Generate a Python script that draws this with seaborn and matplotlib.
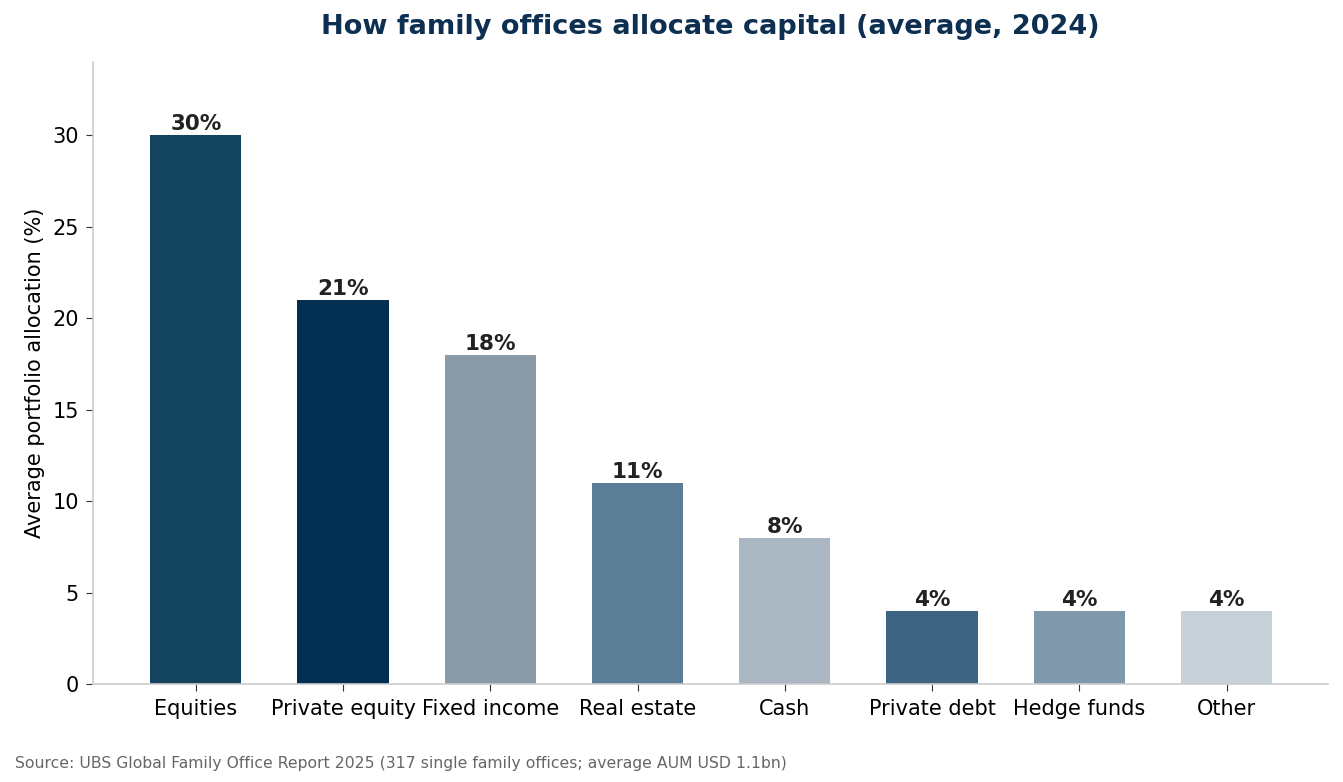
import matplotlib
matplotlib.use('Agg')
import matplotlib.pyplot as plt
import seaborn as sns
import pandas as pd

# Data: average family-office allocation, 2024 (UBS GFOR 2025)
categories = ['Equities', 'Private equity', 'Fixed income', 'Real estate',
              'Cash', 'Private debt', 'Hedge funds', 'Other']
allocation = [30, 21, 18, 11, 8, 4, 4, 4]
bar_colors = ['#12445f', '#022f52', '#8a9aa7', '#5b7d95',
              '#aab7c2', '#3d6480', '#7f99ab', '#c5d0d7']

df = pd.DataFrame({'category': categories, 'allocation': allocation})

sns.set_style('white')
plt.rcParams['font.family'] = ['DejaVu Sans']
plt.rcParams['text.color'] = 'black'
plt.rcParams['axes.labelcolor'] = 'black'
plt.rcParams['xtick.color'] = 'black'
plt.rcParams['ytick.color'] = 'black'

fig, ax = plt.subplots(figsize=(13.43, 7.82), dpi=100)
fig.subplots_adjust(left=0.069, right=0.989, top=0.921, bottom=0.125)

sns.barplot(data=df, x='category', y='allocation', hue='category',
            palette=bar_colors, legend=False, width=0.62, saturation=1,
            linewidth=0, ax=ax)

for i, val in enumerate(allocation):
    ax.text(i, val + 0.05, f'{val}%', ha='center', va='bottom',
            fontsize=15.5, fontweight='bold', color='#222222')

ax.set_ylim(0, 34)
ax.set_xlim(-0.7, 7.69)
ax.set_xlabel('')
ax.set_ylabel('Average portfolio allocation (%)', fontsize=15, labelpad=5.5)
ax.set_title('How family offices allocate capital (average, 2024)',
             fontsize=19.5, fontweight='bold', color='#0d2f52', pad=20)
ax.tick_params(axis='x', labelsize=15, length=5, color='#333333',
               bottom=True, pad=5.5)
ax.tick_params(axis='y', labelsize=15, length=5, color='#333333',
               left=True, pad=5)

sns.despine(ax=ax)
for side in ['left', 'bottom']:
    ax.spines[side].set_color('#cccccc')
    ax.spines[side].set_linewidth(1.2)

fig.text(0.011, 0.018, 'Source: UBS Global Family Office Report 2025 '
         '(317 single family offices; average AUM USD 1.1bn)',
         fontsize=11.25, color='#666666')

plt.savefig('out.png', dpi=100)
